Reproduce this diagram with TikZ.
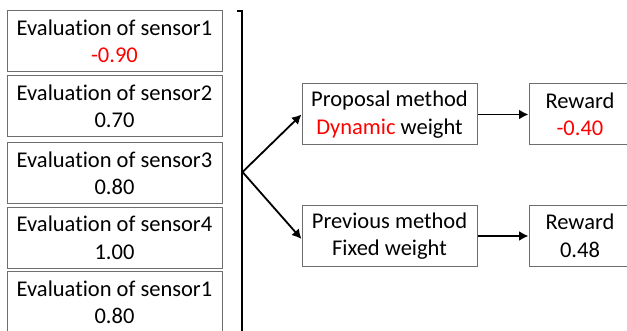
\documentclass[tikz,border=0pt]{standalone}
\usepackage{fontspec}
\setmainfont[RawFeature=-liga]{Carlito}
\usetikzlibrary{arrows.meta}
\definecolor{boxgray}{RGB}{110,110,110}
\definecolor{myred}{RGB}{255,0,0}
\begin{document}
\begin{tikzpicture}[x=1pt,y=-1pt,
  box/.style={draw=boxgray,line width=1pt,rectangle,minimum height=61pt,inner sep=0pt,align=center,
    font=\fontsize{22.5pt}{27.5pt}\selectfont},
  sbox/.style={box,minimum width=215pt},
  mbox/.style={box,minimum width=175pt},
  rbox/.style={box,minimum width=102pt},
  arr/.style={-{Latex[length=9.5pt,width=10pt]},line width=1.8pt,black}]
\useasboundingbox (0,0) rectangle (627,331);
\clip (0,0) rectangle (627,331);
\node[sbox] (s1) at (114.5,41.5) {Evaluation of sensor1\\\textcolor{myred}{-0.90}};
\node[sbox] (s2) at (114.5,106.5) {Evaluation of sensor2\\0.70};
\node[sbox] (s3) at (114.5,173.5) {Evaluation of sensor3\\0.80};
\node[sbox] (s4) at (114.5,238) {Evaluation of sensor4\\1.00};
\node[sbox] (s5) at (114.5,302.5) {Evaluation of sensor1\\0.80};
\node[mbox] (prop) at (389.5,114.5) {Proposal method\\\textcolor{myred}{Dynamic} weight};
\node[mbox] (prev) at (389.5,236) {Previous method\\Fixed weight};
\node[rbox] (r1) at (580,114.5) {Reward\\\textcolor{myred}{-0.40}};
\node[rbox] (r2) at (580,236) {Reward\\0.48};
\coordinate (btop) at (237,11);
\coordinate (bcorner) at (242,11);
\coordinate (bbot) at (242,340);
\coordinate (junc) at (242.5,172);
\draw[line width=2pt,black] (btop) -- (bcorner) -- (bbot);
\draw[arr] (junc) -- (prop.west);
\draw[arr] (junc) -- ([yshift=-3pt]prev.west);
\draw[arr] (prop.east) -- (r1.west);
\draw[arr] (prev.east) -- (r2.west);
\end{tikzpicture}
\end{document}
